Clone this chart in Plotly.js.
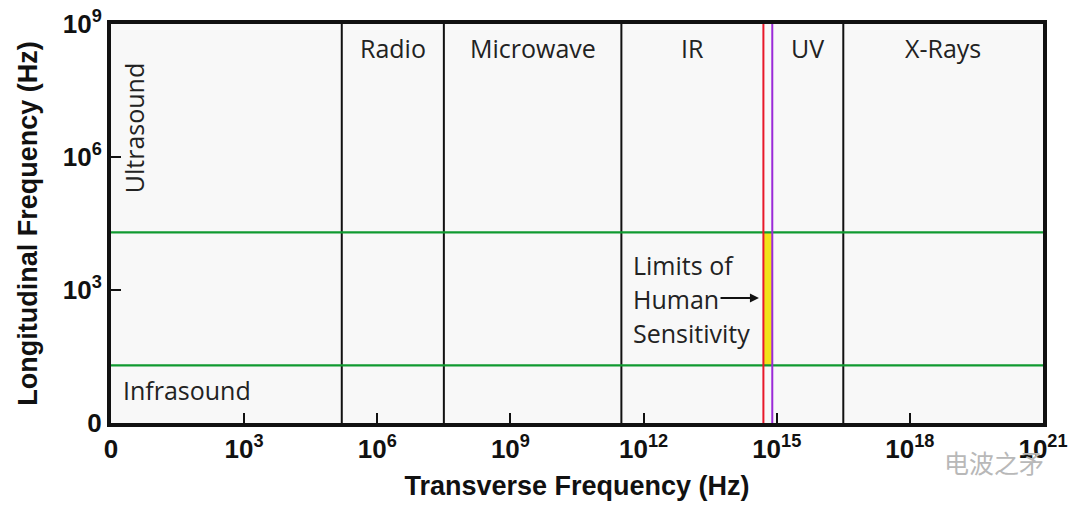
<!DOCTYPE html>
<html><head><meta charset="utf-8">
<script src="https://cdn.plot.ly/plotly-3.0.1.min.js"></script>
<style>html,body{margin:0;padding:0;background:#fff}#chart{width:1080px;height:512px}</style>
</head><body><div id="chart"></div>
<script>
// Axis positions are log10 exponents
const xTickExp = [0, 3, 6, 9, 12, 15, 18, 21];
const xTickText = ['0', '10<sup>3</sup>', '10<sup>6</sup>', '10<sup>9</sup>', '10<sup>12</sup>', '10<sup>15</sup>', '10<sup>18</sup>', '10<sup>21</sup>'];
const yTickExp = [0, 3, 6, 9];
const yTickText = ['0', '10<sup>3</sup>', '10<sup>6</sup>', '10<sup>9</sup>'];
// EM band boundaries (log10 Hz)
const bandEdges = [5.2, 7.5, 11.5, 16.5];
const bandNames = ['Radio', 'Microwave', 'IR', 'UV', 'X-Rays'];
const bandFrom = [5.2, 7.5, 11.5, 14.9, 16.5];
const bandTo = [7.5, 11.5, 14.7, 16.5, 21];
// Visible light limits (log10 Hz)
const visibleRed = 14.7;
const visibleViolet = 14.9;
// Hearing limits (log10 Hz): 20 Hz and 20 kHz
const hearingLimits = [Math.log10(20), Math.log10(20000)];
const xMax = 21, yMax = 9;

const traces = [];
// yellow zone (human sensitivity)
traces.push({x: [visibleRed, visibleViolet, visibleViolet, visibleRed, visibleRed],
  y: [hearingLimits[0], hearingLimits[0], hearingLimits[1], hearingLimits[1], hearingLimits[0]],
  mode: 'lines', fill: 'toself', fillcolor: '#f2e21a', line: {width: 0}, hoverinfo: 'skip'});
// black band separators
const bx = [], by = [];
bandEdges.forEach(e => { bx.push(e, e, null); by.push(0, yMax, null); });
traces.push({x: bx, y: by, mode: 'lines', line: {color: '#111', width: 2}, hoverinfo: 'skip'});
// green hearing limits
const gx = [], gy = [];
hearingLimits.forEach(h => { gx.push(0, xMax, null); gy.push(h, h, null); });
traces.push({x: gx, y: gy, mode: 'lines', line: {color: '#109a30', width: 2.2}, hoverinfo: 'skip'});
// red and violet visible limits
traces.push({x: [visibleRed, visibleRed], y: [0, yMax], mode: 'lines', line: {color: '#e8182a', width: 2}, hoverinfo: 'skip'});
traces.push({x: [visibleViolet, visibleViolet], y: [0, yMax], mode: 'lines', line: {color: '#9a2ad8', width: 2}, hoverinfo: 'skip'});

const lblFont = {family: 'Open Sans, Noto Sans, sans-serif', size: 25, color: '#222'};
const annotations = bandNames.map((n, i) => ({
  x: (bandFrom[i] + bandTo[i]) / 2, y: 8.45, text: n, showarrow: false, font: lblFont
}));
annotations.push({x: 0.52, y: 6.65, text: 'Ultrasound', textangle: -90, showarrow: false, font: lblFont});
annotations.push({x: 0.22, y: 0.74, text: 'Infrasound', xanchor: 'left', showarrow: false, font: lblFont});
annotations.push({x: 11.72, y: 3.56, text: 'Limits of', xanchor: 'left', showarrow: false, font: lblFont});
annotations.push({x: 11.72, y: 2.8, text: 'Human', xanchor: 'left', showarrow: false, font: lblFont});
annotations.push({x: 11.72, y: 2.02, text: 'Sensitivity', xanchor: 'left', showarrow: false, font: lblFont});
annotations.push({x: 14.6, y: 2.82, ax: 13.7, ay: 2.82, axref: 'x', ayref: 'y', xref: 'x', yref: 'y',
  text: '', showarrow: true, arrowhead: 2, arrowsize: 1, arrowwidth: 1.8, arrowcolor: '#111'});
annotations.push({xref: 'paper', yref: 'paper', x: 1.003, y: -0.098, xanchor: 'right', yanchor: 'middle',
  text: '电波之矛', showarrow: false, font: {family: 'Noto Sans CJK SC', size: 25, color: '#b8b8b8'}});

const tickFont = {family: 'Arial, Liberation Sans, sans-serif', size: 26, color: '#111', weight: 'bold'};
const titleFont = {family: 'Arial, Liberation Sans, sans-serif', size: 27, color: '#111'};
const layout = {
  width: 1080, height: 512,
  margin: {l: 111, r: 37, t: 24, b: 89},
  paper_bgcolor: '#fff', plot_bgcolor: '#f8f8f8',
  showlegend: false,
  xaxis: {range: [0, xMax], tickvals: xTickExp, ticktext: xTickText, ticks: 'inside', ticklen: 10, tickwidth: 2,
    tickcolor: '#111', showgrid: false, zeroline: false, showline: true, linewidth: 4, linecolor: '#111', mirror: true,
    tickfont: tickFont,
    title: {text: '<b>Transverse Frequency (Hz)</b>', standoff: 14, font: titleFont}},
  yaxis: {range: [0, yMax], tickvals: yTickExp, ticktext: yTickText, ticks: 'inside', ticklen: 10, tickwidth: 2,
    tickcolor: '#111', showgrid: false, zeroline: false, showline: true, linewidth: 4, linecolor: '#111', mirror: true,
    tickfont: tickFont,
    title: {text: '<b>Longitudinal Frequency (Hz)</b>', standoff: 18, font: titleFont}},
  annotations: annotations
};
Plotly.newPlot('chart', traces, layout, {staticPlot: true, displayModeBar: false});
</script></body></html>
